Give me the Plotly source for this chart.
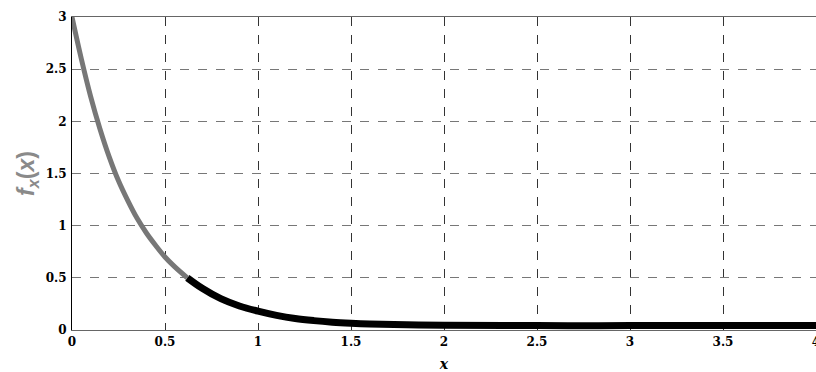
import plotly.graph_objects as go

# Density curve sampled by eye (upper, grey part and lower, black tail)
x_head = [0.0, 0.05, 0.1, 0.15, 0.2, 0.25, 0.3, 0.35, 0.4, 0.45, 0.5, 0.55, 0.62]
y_head = [3.0, 2.6, 2.24, 1.93, 1.66, 1.43, 1.24, 1.07, 0.93, 0.81, 0.7, 0.61, 0.5]
x_tail = [0.62, 0.7, 0.8, 0.9, 1.0, 1.1, 1.2, 1.3, 1.4, 1.5, 1.6, 1.8, 2.0, 2.5, 3.0, 3.5, 4.0]
y_tail = [0.5, 0.4, 0.3, 0.23, 0.18, 0.14, 0.11, 0.09, 0.075, 0.065, 0.058, 0.05, 0.045, 0.042, 0.042, 0.042, 0.042]

x_ticks = [0, 0.5, 1, 1.5, 2, 2.5, 3, 3.5, 4]
x_tick_text = ["0", "0.5", "1", "1.5", "2", "2.5", "3", "3.5", "4"]
y_ticks = [0, 0.5, 1, 1.5, 2, 2.5, 3]
y_tick_text = ["0", "0.5", "1", "1.5", "2", "2.5", "3"]

fig = go.Figure()
fig.add_trace(go.Scatter(x=x_tail, y=y_tail, mode="lines",
                         line=dict(color="#000000", width=7, shape="spline"),
                         hoverinfo="skip"))
fig.add_trace(go.Scatter(x=x_head, y=y_head, mode="lines",
                         line=dict(color="#777777", width=5, shape="spline"),
                         hoverinfo="skip"))

serif = "DejaVu Serif"
tick_font = dict(family=serif, size=12, color="#000000", weight="bold")

fig.update_layout(
    width=816, height=372,
    margin=dict(l=72, r=0, t=17, b=42, autoexpand=False),
    paper_bgcolor="white", plot_bgcolor="white",
    showlegend=False,
    font=dict(family=serif),
    xaxis=dict(
        range=[0, 4], tickvals=x_ticks, ticktext=x_tick_text,
        tickfont=tick_font, ticks="", ticklabelstandoff=1,
        ticklabeloverflow="allow", automargin=False,
        showgrid=True, gridcolor="#333333", gridwidth=1, griddash="dash",
        zeroline=False, showline=True, linecolor="#666666", linewidth=1,
        mirror=True,
        title=dict(text="<b><i>x</i></b>", font=dict(family=serif, size=14, color="#000000"),
                   standoff=12),
    ),
    yaxis=dict(
        range=[0, 3], tickvals=y_ticks, ticktext=y_tick_text,
        tickfont=tick_font, ticks="", ticklabelstandoff=2, automargin=False,
        showgrid=True, gridcolor="#777777", gridwidth=1, griddash="dash",
        zeroline=False, showline=True, linecolor="#000000", linewidth=1,
        title=dict(text="<b><i>f</i><sub><i>x</i></sub>(<i>x</i>)</b>",
                   font=dict(family="Liberation Sans", size=23, color="#8a8a8a"),
                   standoff=4),
    ),
)

fig.write_html("out.html")
